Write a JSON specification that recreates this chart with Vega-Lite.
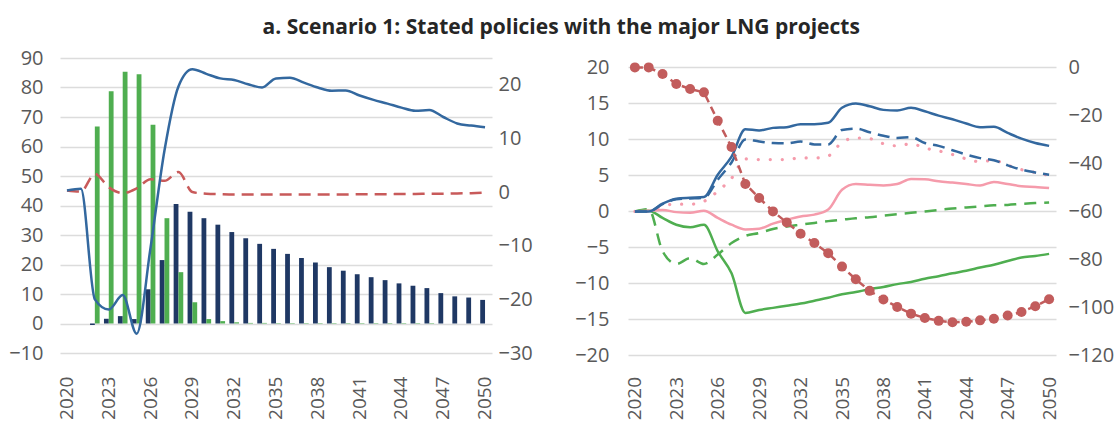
{
  "$schema": "https://vega.github.io/schema/vega-lite/v6.json",
  "title": {"text": "a. Scenario 1: Stated policies with the major LNG projects", "font": "Open Sans", "fontSize": 21, "fontWeight": "bold", "color": "#262626", "anchor": "middle", "offset": 10},
  "padding": {"left": 8, "top": 17, "right": 5, "bottom": 0},
  "spacing": 41,
  "config": {
    "view": {"stroke": null},
    "axis": {"labelFont": "Open Sans", "labelFontSize": 20, "labelColor": "#595959", "ticks": false, "domain": false, "gridColor": "#dcdcdc", "gridWidth": 1.5, "labelOverlap": false}
  },
  "datasets": {
    "bars": [
      {"year": 2022, "series": "Bar 1", "value": -0.5}, {"year": 2023, "series": "Bar 1", "value": 1.6}, {"year": 2024, "series": "Bar 1", "value": 2.5}, {"year": 2025, "series": "Bar 1", "value": 1.5}, {"year": 2026, "series": "Bar 1", "value": 11.6}, {"year": 2027, "series": "Bar 1", "value": 21.5}, {"year": 2028, "series": "Bar 1", "value": 40.5}, {"year": 2029, "series": "Bar 1", "value": 37.9}, {"year": 2030, "series": "Bar 1", "value": 35.7}, {"year": 2031, "series": "Bar 1", "value": 33.5}, {"year": 2032, "series": "Bar 1", "value": 31}, {"year": 2033, "series": "Bar 1", "value": 28.9}, {"year": 2034, "series": "Bar 1", "value": 27}, {"year": 2035, "series": "Bar 1", "value": 25.3}, {"year": 2036, "series": "Bar 1", "value": 23.6}, {"year": 2037, "series": "Bar 1", "value": 22.2}, {"year": 2038, "series": "Bar 1", "value": 20.7}, {"year": 2039, "series": "Bar 1", "value": 19.1}, {"year": 2040, "series": "Bar 1", "value": 17.9}, {"year": 2041, "series": "Bar 1", "value": 16.7}, {"year": 2042, "series": "Bar 1", "value": 15.7}, {"year": 2043, "series": "Bar 1", "value": 14.7}, {"year": 2044, "series": "Bar 1", "value": 13.6}, {"year": 2045, "series": "Bar 1", "value": 12.8}, {"year": 2046, "series": "Bar 1", "value": 12}, {"year": 2047, "series": "Bar 1", "value": 10.3}, {"year": 2048, "series": "Bar 1", "value": 9.2}, {"year": 2049, "series": "Bar 1", "value": 8.8}, {"year": 2050, "series": "Bar 1", "value": 8.0},
      {"year": 2022, "series": "Bar 2", "value": 66.8}, {"year": 2023, "series": "Bar 2", "value": 78.7}, {"year": 2024, "series": "Bar 2", "value": 85.3}, {"year": 2025, "series": "Bar 2", "value": 84.5}, {"year": 2026, "series": "Bar 2", "value": 67.4}, {"year": 2027, "series": "Bar 2", "value": 35.7}, {"year": 2028, "series": "Bar 2", "value": 17.4}, {"year": 2029, "series": "Bar 2", "value": 7.2}, {"year": 2030, "series": "Bar 2", "value": 1.5}, {"year": 2031, "series": "Bar 2", "value": 0.8}, {"year": 2032, "series": "Bar 2", "value": 0.4}, {"year": 2033, "series": "Bar 2", "value": 0.2}, {"year": 2034, "series": "Bar 2", "value": 0.2}, {"year": 2035, "series": "Bar 2", "value": 0.15}, {"year": 2036, "series": "Bar 2", "value": 0.15}, {"year": 2037, "series": "Bar 2", "value": 0.15}, {"year": 2038, "series": "Bar 2", "value": 0.15}, {"year": 2039, "series": "Bar 2", "value": 0.15}, {"year": 2040, "series": "Bar 2", "value": 0.15}, {"year": 2041, "series": "Bar 2", "value": 0.15}, {"year": 2042, "series": "Bar 2", "value": 0.15}, {"year": 2043, "series": "Bar 2", "value": 0.15}, {"year": 2044, "series": "Bar 2", "value": 0.15}, {"year": 2045, "series": "Bar 2", "value": 0.15}, {"year": 2046, "series": "Bar 2", "value": 0.15}
    ],
    "leftLines": [
      {"year": 2020, "series": "Line A", "value": 0.3}, {"year": 2021, "series": "Line A", "value": 0.6}, {"year": 2022, "series": "Line A", "value": -20}, {"year": 2023, "series": "Line A", "value": -21.9}, {"year": 2024, "series": "Line A", "value": -19.2}, {"year": 2025, "series": "Line A", "value": -26.4}, {"year": 2026, "series": "Line A", "value": -10.3}, {"year": 2027, "series": "Line A", "value": 7.8}, {"year": 2028, "series": "Line A", "value": 19.7}, {"year": 2029, "series": "Line A", "value": 22.9}, {"year": 2030, "series": "Line A", "value": 22.05}, {"year": 2031, "series": "Line A", "value": 21.2}, {"year": 2032, "series": "Line A", "value": 20.9}, {"year": 2033, "series": "Line A", "value": 20.1}, {"year": 2034, "series": "Line A", "value": 19.5}, {"year": 2035, "series": "Line A", "value": 21.2}, {"year": 2036, "series": "Line A", "value": 21.3}, {"year": 2037, "series": "Line A", "value": 20.4}, {"year": 2038, "series": "Line A", "value": 19.5}, {"year": 2039, "series": "Line A", "value": 18.9}, {"year": 2040, "series": "Line A", "value": 18.96}, {"year": 2041, "series": "Line A", "value": 18.0}, {"year": 2042, "series": "Line A", "value": 17.2}, {"year": 2043, "series": "Line A", "value": 16.5}, {"year": 2044, "series": "Line A", "value": 15.75}, {"year": 2045, "series": "Line A", "value": 15.15}, {"year": 2046, "series": "Line A", "value": 15.3}, {"year": 2047, "series": "Line A", "value": 14.0}, {"year": 2048, "series": "Line A", "value": 12.8}, {"year": 2049, "series": "Line A", "value": 12.4}, {"year": 2050, "series": "Line A", "value": 12.1},
      {"year": 2020, "series": "Line B", "value": 0.3}, {"year": 2021, "series": "Line B", "value": 0.1}, {"year": 2022, "series": "Line B", "value": 3.4}, {"year": 2023, "series": "Line B", "value": 0.9}, {"year": 2024, "series": "Line B", "value": -0.2}, {"year": 2025, "series": "Line B", "value": 0.7}, {"year": 2026, "series": "Line B", "value": 2.4}, {"year": 2027, "series": "Line B", "value": 2.1}, {"year": 2028, "series": "Line B", "value": 3.75}, {"year": 2029, "series": "Line B", "value": 0.0}, {"year": 2030, "series": "Line B", "value": -0.3}, {"year": 2031, "series": "Line B", "value": -0.4}, {"year": 2032, "series": "Line B", "value": -0.45}, {"year": 2033, "series": "Line B", "value": -0.45}, {"year": 2034, "series": "Line B", "value": -0.45}, {"year": 2035, "series": "Line B", "value": -0.45}, {"year": 2036, "series": "Line B", "value": -0.45}, {"year": 2037, "series": "Line B", "value": -0.45}, {"year": 2038, "series": "Line B", "value": -0.45}, {"year": 2039, "series": "Line B", "value": -0.45}, {"year": 2040, "series": "Line B", "value": -0.45}, {"year": 2041, "series": "Line B", "value": -0.4}, {"year": 2042, "series": "Line B", "value": -0.4}, {"year": 2043, "series": "Line B", "value": -0.4}, {"year": 2044, "series": "Line B", "value": -0.35}, {"year": 2045, "series": "Line B", "value": -0.35}, {"year": 2046, "series": "Line B", "value": -0.3}, {"year": 2047, "series": "Line B", "value": -0.3}, {"year": 2048, "series": "Line B", "value": -0.25}, {"year": 2049, "series": "Line B", "value": -0.2}, {"year": 2050, "series": "Line B", "value": -0.1}
    ],
    "rightLines": [
      {"year": 2020, "series": "Blue solid", "value": 0}, {"year": 2021, "series": "Blue solid", "value": 0}, {"year": 2022, "series": "Blue solid", "value": 1.07}, {"year": 2023, "series": "Blue solid", "value": 1.76}, {"year": 2024, "series": "Blue solid", "value": 1.9}, {"year": 2025, "series": "Blue solid", "value": 2.0}, {"year": 2026, "series": "Blue solid", "value": 5.1}, {"year": 2027, "series": "Blue solid", "value": 7.6}, {"year": 2028, "series": "Blue solid", "value": 11.4}, {"year": 2029, "series": "Blue solid", "value": 11.25}, {"year": 2030, "series": "Blue solid", "value": 11.6}, {"year": 2031, "series": "Blue solid", "value": 11.7}, {"year": 2032, "series": "Blue solid", "value": 12.1}, {"year": 2033, "series": "Blue solid", "value": 12.1}, {"year": 2034, "series": "Blue solid", "value": 12.3}, {"year": 2035, "series": "Blue solid", "value": 14.4}, {"year": 2036, "series": "Blue solid", "value": 15.0}, {"year": 2037, "series": "Blue solid", "value": 14.6}, {"year": 2038, "series": "Blue solid", "value": 14.1}, {"year": 2039, "series": "Blue solid", "value": 14.0}, {"year": 2040, "series": "Blue solid", "value": 14.4}, {"year": 2041, "series": "Blue solid", "value": 13.9}, {"year": 2042, "series": "Blue solid", "value": 13.3}, {"year": 2043, "series": "Blue solid", "value": 12.8}, {"year": 2044, "series": "Blue solid", "value": 12.2}, {"year": 2045, "series": "Blue solid", "value": 11.7}, {"year": 2046, "series": "Blue solid", "value": 11.75}, {"year": 2047, "series": "Blue solid", "value": 10.9}, {"year": 2048, "series": "Blue solid", "value": 10.1}, {"year": 2049, "series": "Blue solid", "value": 9.5}, {"year": 2050, "series": "Blue solid", "value": 9.1},
      {"year": 2020, "series": "Blue dashed", "value": 0}, {"year": 2021, "series": "Blue dashed", "value": 0}, {"year": 2022, "series": "Blue dashed", "value": 1.0}, {"year": 2023, "series": "Blue dashed", "value": 1.7}, {"year": 2024, "series": "Blue dashed", "value": 1.8}, {"year": 2025, "series": "Blue dashed", "value": 1.9}, {"year": 2026, "series": "Blue dashed", "value": 4.4}, {"year": 2027, "series": "Blue dashed", "value": 6.8}, {"year": 2028, "series": "Blue dashed", "value": 10.0}, {"year": 2029, "series": "Blue dashed", "value": 9.7}, {"year": 2030, "series": "Blue dashed", "value": 9.5}, {"year": 2031, "series": "Blue dashed", "value": 9.45}, {"year": 2032, "series": "Blue dashed", "value": 9.7}, {"year": 2033, "series": "Blue dashed", "value": 9.3}, {"year": 2034, "series": "Blue dashed", "value": 9.3}, {"year": 2035, "series": "Blue dashed", "value": 11.3}, {"year": 2036, "series": "Blue dashed", "value": 11.5}, {"year": 2037, "series": "Blue dashed", "value": 11.0}, {"year": 2038, "series": "Blue dashed", "value": 10.5}, {"year": 2039, "series": "Blue dashed", "value": 10.2}, {"year": 2040, "series": "Blue dashed", "value": 10.3}, {"year": 2041, "series": "Blue dashed", "value": 9.5}, {"year": 2042, "series": "Blue dashed", "value": 9.1}, {"year": 2043, "series": "Blue dashed", "value": 8.5}, {"year": 2044, "series": "Blue dashed", "value": 7.9}, {"year": 2045, "series": "Blue dashed", "value": 7.4}, {"year": 2046, "series": "Blue dashed", "value": 7.1}, {"year": 2047, "series": "Blue dashed", "value": 6.4}, {"year": 2048, "series": "Blue dashed", "value": 5.8}, {"year": 2049, "series": "Blue dashed", "value": 5.4}, {"year": 2050, "series": "Blue dashed", "value": 5.1},
      {"year": 2020, "series": "Pink dotted", "value": 0}, {"year": 2021, "series": "Pink dotted", "value": 0}, {"year": 2022, "series": "Pink dotted", "value": 0.8}, {"year": 2023, "series": "Pink dotted", "value": 1.0}, {"year": 2024, "series": "Pink dotted", "value": 1.0}, {"year": 2025, "series": "Pink dotted", "value": 1.4}, {"year": 2026, "series": "Pink dotted", "value": 2.8}, {"year": 2027, "series": "Pink dotted", "value": 4.6}, {"year": 2028, "series": "Pink dotted", "value": 7.3}, {"year": 2029, "series": "Pink dotted", "value": 7.2}, {"year": 2030, "series": "Pink dotted", "value": 7.2}, {"year": 2031, "series": "Pink dotted", "value": 7.2}, {"year": 2032, "series": "Pink dotted", "value": 7.45}, {"year": 2033, "series": "Pink dotted", "value": 7.4}, {"year": 2034, "series": "Pink dotted", "value": 7.7}, {"year": 2035, "series": "Pink dotted", "value": 9.6}, {"year": 2036, "series": "Pink dotted", "value": 10.2}, {"year": 2037, "series": "Pink dotted", "value": 10.1}, {"year": 2038, "series": "Pink dotted", "value": 9.4}, {"year": 2039, "series": "Pink dotted", "value": 9.1}, {"year": 2040, "series": "Pink dotted", "value": 9.4}, {"year": 2041, "series": "Pink dotted", "value": 8.8}, {"year": 2042, "series": "Pink dotted", "value": 8.4}, {"year": 2043, "series": "Pink dotted", "value": 7.9}, {"year": 2044, "series": "Pink dotted", "value": 7.3}, {"year": 2045, "series": "Pink dotted", "value": 6.9}, {"year": 2046, "series": "Pink dotted", "value": 7.1}, {"year": 2047, "series": "Pink dotted", "value": 6.4}, {"year": 2048, "series": "Pink dotted", "value": 5.8}, {"year": 2049, "series": "Pink dotted", "value": 5.4}, {"year": 2050, "series": "Pink dotted", "value": 5.0},
      {"year": 2020, "series": "Pink solid", "value": 0}, {"year": 2021, "series": "Pink solid", "value": 0.1}, {"year": 2022, "series": "Pink solid", "value": 0.2}, {"year": 2023, "series": "Pink solid", "value": -0.1}, {"year": 2024, "series": "Pink solid", "value": -0.2}, {"year": 2025, "series": "Pink solid", "value": 0.1}, {"year": 2026, "series": "Pink solid", "value": -0.9}, {"year": 2027, "series": "Pink solid", "value": -1.85}, {"year": 2028, "series": "Pink solid", "value": -2.5}, {"year": 2029, "series": "Pink solid", "value": -2.4}, {"year": 2030, "series": "Pink solid", "value": -1.7}, {"year": 2031, "series": "Pink solid", "value": -1.15}, {"year": 2032, "series": "Pink solid", "value": -0.7}, {"year": 2033, "series": "Pink solid", "value": -0.45}, {"year": 2034, "series": "Pink solid", "value": 0.25}, {"year": 2035, "series": "Pink solid", "value": 3.0}, {"year": 2036, "series": "Pink solid", "value": 3.8}, {"year": 2037, "series": "Pink solid", "value": 3.7}, {"year": 2038, "series": "Pink solid", "value": 3.6}, {"year": 2039, "series": "Pink solid", "value": 3.8}, {"year": 2040, "series": "Pink solid", "value": 4.5}, {"year": 2041, "series": "Pink solid", "value": 4.45}, {"year": 2042, "series": "Pink solid", "value": 4.2}, {"year": 2043, "series": "Pink solid", "value": 4.0}, {"year": 2044, "series": "Pink solid", "value": 3.8}, {"year": 2045, "series": "Pink solid", "value": 3.6}, {"year": 2046, "series": "Pink solid", "value": 4.1}, {"year": 2047, "series": "Pink solid", "value": 3.8}, {"year": 2048, "series": "Pink solid", "value": 3.5}, {"year": 2049, "series": "Pink solid", "value": 3.4}, {"year": 2050, "series": "Pink solid", "value": 3.25},
      {"year": 2020, "series": "Green solid", "value": 0}, {"year": 2021, "series": "Green solid", "value": 0.1}, {"year": 2022, "series": "Green solid", "value": -0.9}, {"year": 2023, "series": "Green solid", "value": -1.85}, {"year": 2024, "series": "Green solid", "value": -2.2}, {"year": 2025, "series": "Green solid", "value": -1.85}, {"year": 2026, "series": "Green solid", "value": -5.55}, {"year": 2027, "series": "Green solid", "value": -8.6}, {"year": 2028, "series": "Green solid", "value": -14.1}, {"year": 2029, "series": "Green solid", "value": -13.7}, {"year": 2030, "series": "Green solid", "value": -13.4}, {"year": 2031, "series": "Green solid", "value": -13.1}, {"year": 2032, "series": "Green solid", "value": -12.8}, {"year": 2033, "series": "Green solid", "value": -12.4}, {"year": 2034, "series": "Green solid", "value": -12.0}, {"year": 2035, "series": "Green solid", "value": -11.5}, {"year": 2036, "series": "Green solid", "value": -11.2}, {"year": 2037, "series": "Green solid", "value": -10.8}, {"year": 2038, "series": "Green solid", "value": -10.5}, {"year": 2039, "series": "Green solid", "value": -10.1}, {"year": 2040, "series": "Green solid", "value": -9.8}, {"year": 2041, "series": "Green solid", "value": -9.35}, {"year": 2042, "series": "Green solid", "value": -9.0}, {"year": 2043, "series": "Green solid", "value": -8.6}, {"year": 2044, "series": "Green solid", "value": -8.25}, {"year": 2045, "series": "Green solid", "value": -7.8}, {"year": 2046, "series": "Green solid", "value": -7.4}, {"year": 2047, "series": "Green solid", "value": -6.9}, {"year": 2048, "series": "Green solid", "value": -6.4}, {"year": 2049, "series": "Green solid", "value": -6.2}, {"year": 2050, "series": "Green solid", "value": -5.9},
      {"year": 2020, "series": "Green dashed", "value": 0}, {"year": 2021, "series": "Green dashed", "value": 0.3}, {"year": 2022, "series": "Green dashed", "value": -5.5}, {"year": 2023, "series": "Green dashed", "value": -7.3}, {"year": 2024, "series": "Green dashed", "value": -6.5}, {"year": 2025, "series": "Green dashed", "value": -7.3}, {"year": 2026, "series": "Green dashed", "value": -6.0}, {"year": 2027, "series": "Green dashed", "value": -4.4}, {"year": 2028, "series": "Green dashed", "value": -3.4}, {"year": 2029, "series": "Green dashed", "value": -3.0}, {"year": 2030, "series": "Green dashed", "value": -2.45}, {"year": 2031, "series": "Green dashed", "value": -2.1}, {"year": 2032, "series": "Green dashed", "value": -1.85}, {"year": 2033, "series": "Green dashed", "value": -1.6}, {"year": 2034, "series": "Green dashed", "value": -1.35}, {"year": 2035, "series": "Green dashed", "value": -1.15}, {"year": 2036, "series": "Green dashed", "value": -0.95}, {"year": 2037, "series": "Green dashed", "value": -0.8}, {"year": 2038, "series": "Green dashed", "value": -0.6}, {"year": 2039, "series": "Green dashed", "value": -0.4}, {"year": 2040, "series": "Green dashed", "value": -0.2}, {"year": 2041, "series": "Green dashed", "value": 0}, {"year": 2042, "series": "Green dashed", "value": 0.2}, {"year": 2043, "series": "Green dashed", "value": 0.4}, {"year": 2044, "series": "Green dashed", "value": 0.55}, {"year": 2045, "series": "Green dashed", "value": 0.7}, {"year": 2046, "series": "Green dashed", "value": 0.85}, {"year": 2047, "series": "Green dashed", "value": 0.9}, {"year": 2048, "series": "Green dashed", "value": 1.05}, {"year": 2049, "series": "Green dashed", "value": 1.15}, {"year": 2050, "series": "Green dashed", "value": 1.25}
    ],
    "dots": [
      {"year": 2020, "value": 0}, {"year": 2021, "value": 0}, {"year": 2022, "value": -2.75}, {"year": 2023, "value": -6.9}, {"year": 2024, "value": -9}, {"year": 2025, "value": -10.4}, {"year": 2026, "value": -22.2}, {"year": 2027, "value": -33.2}, {"year": 2028, "value": -48.6}, {"year": 2029, "value": -54.4}, {"year": 2030, "value": -60}, {"year": 2031, "value": -64.6}, {"year": 2032, "value": -69.3}, {"year": 2033, "value": -73.2}, {"year": 2034, "value": -77.4}, {"year": 2035, "value": -83.0}, {"year": 2036, "value": -88.3}, {"year": 2037, "value": -93.1}, {"year": 2038, "value": -96.7}, {"year": 2039, "value": -99.8}, {"year": 2040, "value": -102.6}, {"year": 2041, "value": -104.4}, {"year": 2042, "value": -105.6}, {"year": 2043, "value": -106.2}, {"year": 2044, "value": -106}, {"year": 2045, "value": -105.4}, {"year": 2046, "value": -104.7}, {"year": 2047, "value": -103.4}, {"year": 2048, "value": -101.9}, {"year": 2049, "value": -99.5}, {"year": 2050, "value": -96.6}
    ]
  },
  "hconcat": [
    {
      "width": 432,
      "height": 295,
      "layer": [
        {
          "data": {"name": "bars"},
          "mark": {"type": "bar"},
          "encoding": {
            "x": {"field": "year", "type": "ordinal", "title": null,
              "scale": {"domain": [2020,2021,2022,2023,2024,2025,2026,2027,2028,2029,2030,2031,2032,2033,2034,2035,2036,2037,2038,2039,2040,2041,2042,2043,2044,2045,2046,2047,2048,2049,2050], "paddingInner": 0.31, "paddingOuter": 0.155},
              "axis": {"values": [2020,2023,2026,2029,2032,2035,2038,2041,2044,2047,2050], "labelAngle": -90, "labelPadding": 23, "labelFontSize": 19, "grid": false}},
            "xOffset": {"field": "series", "type": "nominal", "scale": {"domain": ["Bar 1", "Bar 2"]}},
            "y": {"field": "value", "type": "quantitative", "title": null, "scale": {"domain": [-10, 90], "nice": false},
              "axis": {"orient": "left", "values": [-10,0,10,20,30,40,50,60,70,80,90], "labelPadding": 17, "grid": true}},
            "color": {"field": "series", "type": "nominal", "scale": {"domain": ["Bar 1", "Bar 2"], "range": ["#1f3864", "#4fae50"]}, "legend": null}
          }
        },
        {
          "data": {"name": "leftLines"},
          "encoding": {
            "x": {"field": "year", "type": "ordinal", "title": null},
            "y": {"field": "value", "type": "quantitative", "title": null, "scale": {"domain": [-30, 25], "nice": false},
              "axis": {"orient": "right", "values": [-30,-20,-10,0,10,20], "labelPadding": 6, "grid": false}}
          },
          "layer": [
            {"transform": [{"filter": "datum.series === 'Line B'"}], "mark": {"type": "line", "interpolate": "monotone", "strokeWidth": 2.5, "color": "#c85a5a", "strokeDash": [12, 7]}},
            {"transform": [{"filter": "datum.series === 'Line A'"}], "mark": {"type": "line", "interpolate": "monotone", "strokeWidth": 2.5, "color": "#33689f"}}
          ]
        }
      ],
      "resolve": {"scale": {"y": "independent"}}
    },
    {
      "width": 428,
      "height": 297.4,
      "layer": [
        {
          "data": {"name": "rightLines"},
          "encoding": {
            "x": {"field": "year", "type": "ordinal", "title": null,
              "scale": {"domain": [2020,2021,2022,2023,2024,2025,2026,2027,2028,2029,2030,2031,2032,2033,2034,2035,2036,2037,2038,2039,2040,2041,2042,2043,2044,2045,2046,2047,2048,2049,2050], "paddingInner": 0.31, "paddingOuter": 0.155},
              "axis": {"values": [2020,2023,2026,2029,2032,2035,2038,2041,2044,2047,2050], "labelAngle": -90, "labelPadding": 21, "labelFontSize": 19, "grid": false}},
            "y": {"field": "value", "type": "quantitative", "title": null, "scale": {"domain": [-20, 20], "nice": false, "range": [297.4, 9.4]},
              "axis": {"orient": "left", "values": [-20,-15,-10,-5,0,5,10,15,20], "labelPadding": 19, "grid": true}}
          },
          "layer": [
            {"transform": [{"filter": "datum.series === 'Green dashed'"}], "mark": {"type": "line", "interpolate": "monotone", "strokeWidth": 2.5, "color": "#4fae50", "strokeDash": [12, 8]}},
            {"transform": [{"filter": "datum.series === 'Green solid'"}], "mark": {"type": "line", "interpolate": "monotone", "strokeWidth": 2.5, "color": "#4fae50"}},
            {"transform": [{"filter": "datum.series === 'Pink solid'"}], "mark": {"type": "line", "interpolate": "monotone", "strokeWidth": 2.5, "color": "#f59bab"}},
            {"transform": [{"filter": "datum.series === 'Pink dotted'"}], "mark": {"type": "line", "interpolate": "monotone", "strokeWidth": 3.2, "strokeCap": "round", "color": "#f59bab", "strokeDash": [0.1, 11.9]}},
            {"transform": [{"filter": "datum.series === 'Blue dashed'"}], "mark": {"type": "line", "interpolate": "monotone", "strokeWidth": 2.5, "color": "#33689f", "strokeDash": [12, 7]}},
            {"transform": [{"filter": "datum.series === 'Blue solid'"}], "mark": {"type": "line", "interpolate": "monotone", "strokeWidth": 2.5, "color": "#33689f"}}
          ]
        },
        {
          "data": {"name": "dots"},
          "encoding": {
            "x": {"field": "year", "type": "ordinal", "title": null},
            "y": {"field": "value", "type": "quantitative", "title": null, "scale": {"domain": [-120, 0], "nice": false, "range": [297.4, 9.4]},
              "axis": {"orient": "right", "values": [-120,-100,-80,-60,-40,-20,0], "labelPadding": 12, "grid": false}}
          },
          "layer": [
            {"mark": {"type": "line", "color": "#c25c5c", "strokeWidth": 2.5, "strokeDash": [8, 5]}},
            {"mark": {"type": "circle", "color": "#c25c5c", "opacity": 1, "size": 100}}
          ]
        }
      ],
      "resolve": {"scale": {"y": "independent"}}
    }
  ]
}
